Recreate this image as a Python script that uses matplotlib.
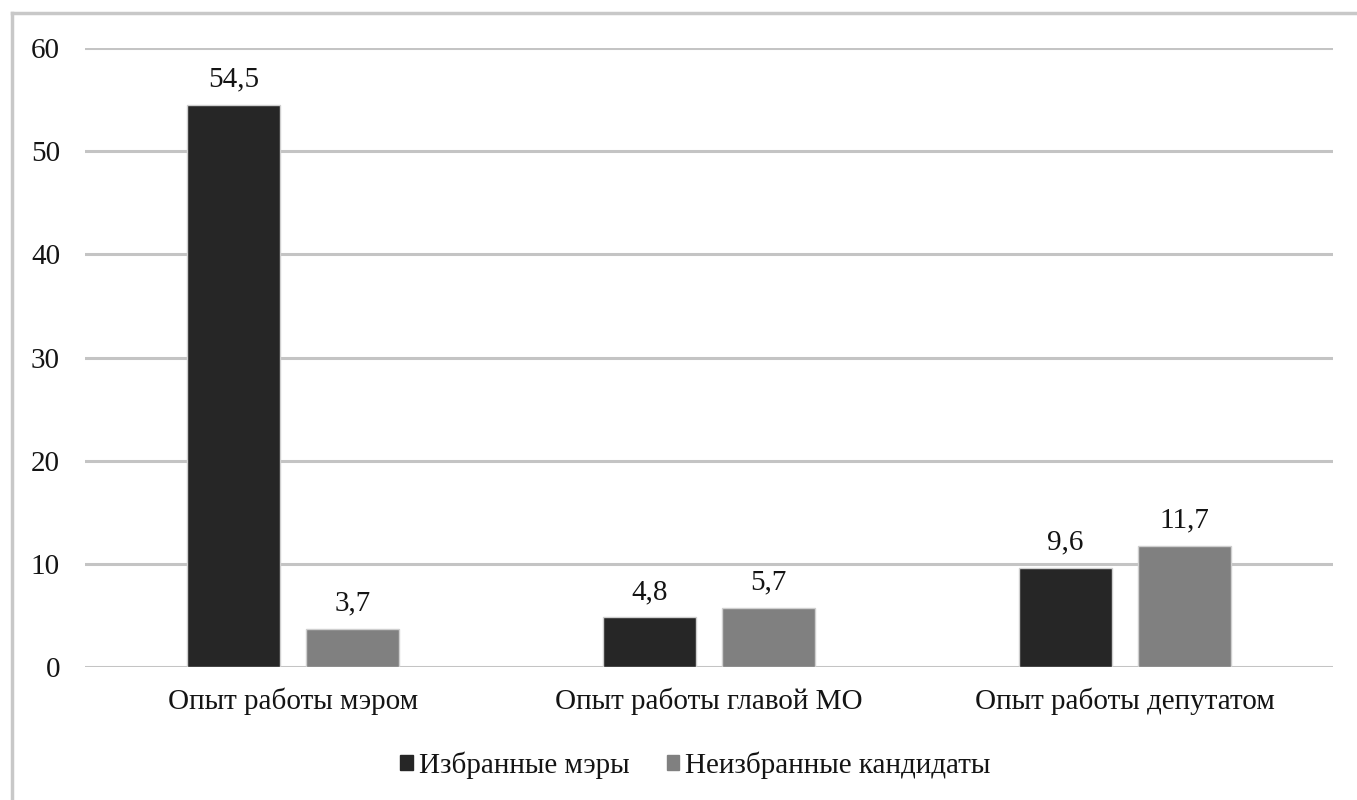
import matplotlib
matplotlib.use("Agg")
import matplotlib.pyplot as plt
from matplotlib.lines import Line2D
import numpy as np

categories = ["Опыт работы мэром", "Опыт работы главой МО", "Опыт работы депутатом"]
elected = [54.5, 4.8, 9.6]
not_elected = [3.7, 5.7, 11.7]
series_names = ["Избранные мэры", "Неизбранные кандидаты"]
yticks = [0, 10, 20, 30, 40, 50, 60]

plt.rcParams["font.family"] = ["Liberation Serif", "DejaVu Serif"]

W, H = 1357, 800
FS = 21
TXT = "#141414"
fig = plt.figure(figsize=(W / 100, H / 100), dpi=100)
ax = fig.add_axes([85 / W, 1 - 667 / H, (1333 - 85) / W, (667 - 48) / H])

x = np.arange(len(categories))
bw = 0.224
off = 0.143
dark = "#262626"
grey = "#808080"
b1 = ax.bar(x - off, elected, bw, color=dark, edgecolor="#cfcfcf", linewidth=1.0, zorder=3)
b2 = ax.bar(x + off, not_elected, bw, color=grey, edgecolor="#cfcfcf", linewidth=1.0, zorder=3)

def fmt(v):
    return f"{v:.1f}".replace(".", ",")

for bars, vals in ((b1, elected), (b2, not_elected)):
    for r, v in zip(bars, vals):
        ax.annotate(fmt(v), (r.get_x() + r.get_width() / 2, v), xytext=(0, 9),
                    textcoords="offset points", ha="center", va="bottom",
                    fontsize=FS, color=TXT)

ax.set_xlim(-0.5, 2.5)
ax.set_ylim(0, 60)
ax.set_yticks(yticks)
ax.set_yticklabels([str(t) for t in yticks], fontsize=FS, color=TXT)
ax.set_xticks(x)
ax.set_xticklabels(categories, fontsize=FS, color=TXT)
ax.tick_params(axis="both", length=0)
ax.tick_params(axis="y", pad=18)
ax.tick_params(axis="x", pad=15)
for s in ax.spines.values():
    s.set_visible(False)
ax.yaxis.grid(True, color="#c4c4c4", linewidth=2.2, zorder=0)
ax.set_axisbelow(True)

handles = [plt.Rectangle((0, 0), 1, 1, color=dark), plt.Rectangle((0, 0), 1, 1, color=grey)]
fig.legend(handles, series_names, loc="center", bbox_to_anchor=(0.5 + 17 / W, 1 - 765 / H),
           ncol=2, frameon=False, handlelength=0.42, handleheight=0.42,
           handletextpad=0.2, columnspacing=1.3, prop={"size": FS})
for t in fig.legends[0].get_texts():
    t.set_color(TXT)

# outer frame: top and left edges
fig.add_artist(Line2D([12 / W, 1], [1 - 13 / H, 1 - 13 / H], color="#c8c8c8", linewidth=2.5,
                      transform=fig.transFigure))
fig.add_artist(Line2D([12 / W, 12 / W], [0, 1 - 13 / H], color="#c8c8c8", linewidth=2.5,
                      transform=fig.transFigure))

fig.savefig("out.png", dpi=100)
